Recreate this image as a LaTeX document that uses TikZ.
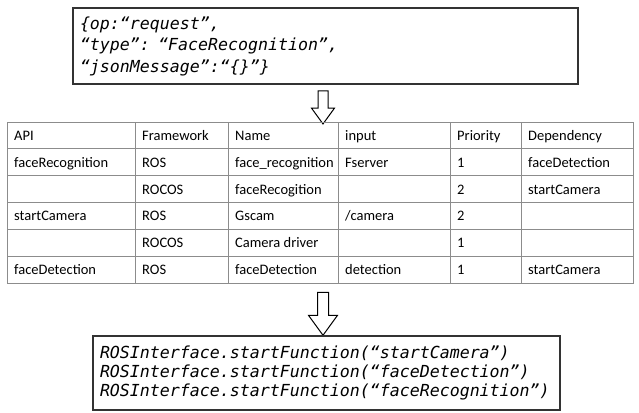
\documentclass[tikz,border=0pt]{standalone}
\usepackage{fontspec}
\setmainfont{Carlito}
\newfontfamily\codefont{DejaVu Sans Mono}
\usetikzlibrary{shapes.arrows}

\tikzset{
  codebox/.style={draw=black!80, line width=1.6pt, fill=white, align=left,
    inner xsep=7pt, font=\codefont\itshape\fontsize{16.6}{20}\selectfont},
  cellbox/.style={anchor=base west, inner sep=0pt, font=\fontsize{14.5}{18}\selectfont},
  gridline/.style={draw=black!45, line width=0.8pt},
  downarrow/.style={draw=black, line width=1pt, fill=white, single arrow, rotate=-90,
    inner xsep=0pt, single arrow tip angle=72, single arrow head indent=0pt}
}

\begin{document}
\begin{tikzpicture}[x=1pt, y=-1pt]
  \useasboundingbox (0,0) rectangle (639,412);

  % request coming in
  \node[codebox, text width=491pt, minimum height=76pt,
    font=\codefont\itshape\fontsize{16.6}{21.5}\selectfont] (request) at (325.5,46) {
    \{op:“request”,\\
    “type”: “FaceRecognition”,\\
    “jsonMessage”:“\{\}”\}
  };

  % first arrow
  \node[downarrow, inner ysep=4.5pt, single arrow head extend=6.5pt, minimum height=33pt] (step1) at (323,104) {};

  % lookup table
  \node[gridline, minimum width=626pt, minimum height=161pt, inner sep=0pt] (lookup) at (320,202.5) {};
  \foreach \x in {135,228,338,450,521}
    \draw[gridline] (\x,122) -- (\x,283);
  \foreach \y in {148.8,175.6,202.4,229.2,256}
    \draw[gridline] (7,\y) -- (633,\y);
  \foreach \y/\a/\b/\c/\d/\e/\f [count=\i] in {
      140.4/API/Framework/Name/input/Priority/Dependency,
      167.2/faceRecognition/ROS/face\_recognition/Fserver/1/faceDetection,
      194//ROCOS/faceRecogition//2/startCamera,
      220.8/startCamera/ROS/Gscam/{/camera}/2/,
      247.6//ROCOS/Camera driver//1/,
      274.4/faceDetection/ROS/faceDetection/detection/1/startCamera}{
    \node[cellbox] (api\i) at (14,\y) {\a};
    \node[cellbox] (frame\i) at (142,\y) {\b};
    \node[cellbox] (name\i) at (235,\y) {\c};
    \node[cellbox] (input\i) at (345,\y) {\d};
    \node[cellbox] (prio\i) at (457,\y) {\e};
    \node[cellbox] (dep\i) at (528,\y) {\f};
  }

  % second arrow
  \node[downarrow, inner ysep=5pt, single arrow head extend=9pt, minimum height=43pt] (step2) at (323,310) {};

  % resulting calls
  \node[codebox, text width=453pt, minimum height=74pt,
    font=\codefont\itshape\fontsize{16.6}{19}\selectfont] (calls) at (326.5,373) {
    ROSInterface.startFunction(“startCamera”)\\
    ROSInterface.startFunction(“faceDetection”)\\
    ROSInterface.startFunction(“faceRecognition”)
  };
\end{tikzpicture}
\end{document}
